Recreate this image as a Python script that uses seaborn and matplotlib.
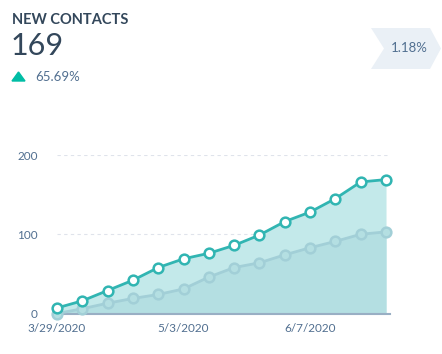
import pandas as pd
import seaborn as sns
import matplotlib.pyplot as plt
import matplotlib.dates as mdates
from matplotlib.patches import Polygon

# %% data
dates = pd.date_range('2020-03-29', periods=14, freq='7D')
current = [7, 16, 29, 42, 58, 69, 76, 86, 99, 116, 128, 145, 166, 169]
previous = [0, 6, 13, 19, 24, 31, 46, 58, 64, 74, 83, 91, 100, 103]
tick_dates = ['2020-03-29', '2020-05-03', '2020-06-07']

title = 'NEW CONTACTS'
total = '169'
change = '65.69%'
rate = '1.18%'

# %% style
sns.set_style('white')
plt.rcParams['font.family'] = ['Lato', 'DejaVu Sans']

dark = '#33475b'
slate = '#516f90'
teal = '#31b5b2'
pale = '#a2cfd7'
fill_cur = '#c3e9ea'
fill_prev = '#b4dfe2'

df = pd.DataFrame({'date': list(dates) * 2,
                   'value': current + previous,
                   'series': ['current'] * 14 + ['previous'] * 14})

W, H = 442, 354
fig = plt.figure(figsize=(W / 100, H / 100), dpi=100)
ax = fig.add_axes([57 / W, 1 - 313.5 / H, 333 / W, 158.5 / H])

# areas
ax.fill_between(dates, current, color=fill_cur, lw=0, zorder=1)
ax.fill_between(dates, previous, color=fill_prev, lw=0, zorder=1)

sns.lineplot(data=df, x='date', y='value', hue='series',
             palette={'current': teal, 'previous': pale},
             hue_order=['previous', 'current'],
             marker='o', markersize=7, markerfacecolor='white',
             markeredgewidth=1.8, linewidth=2, legend=False, ax=ax,
             clip_on=False, zorder=3)
for ln, col, face in zip(ax.lines, [pale, teal], [fill_prev, 'white']):
    ln.set_markeredgecolor(col)
    ln.set_markerfacecolor(face)

ax.set_ylim(0, 200)
ax.set_xlim(dates[0], dates[-1] + pd.Timedelta(days=1.1))
ax.set_yticks([0, 100, 200])
ax.set_xticks(pd.to_datetime(tick_dates))
ax.xaxis.set_major_formatter(mdates.DateFormatter('%-m/%-d/%Y'))
ax.grid(axis='y', color='#dfe3eb', linestyle=(0, (3, 3)), linewidth=0.8)
ax.set_axisbelow(True)
ax.set_xlabel('')
ax.set_ylabel('')
for s in ['top', 'right', 'left']:
    ax.spines[s].set_visible(False)
ax.spines['bottom'].set_color('#99afc4')
ax.spines['bottom'].set_linewidth(1.5)
ax.spines['bottom'].set_zorder(2)
ax.tick_params(axis='x', direction='in', length=5, color='#99afc4', width=0.8,
               labelsize=8.5, labelcolor=slate, pad=7)
ax.tick_params(axis='y', length=0, labelsize=8.5, labelcolor=slate, pad=14)
ax.patch.set_alpha(0)

# %% header texts
def px(x, y):
    return x / W, 1 - y / H

fig.text(*px(12, 24), title, fontsize=10.5, fontweight='bold', color=dark)
fig.text(*px(11, 55), total, fontsize=22, color=dark)
fig.patches.append(Polygon([px(12, 81), px(25, 81), px(18.5, 72)],
                           closed=True, color='#00bda5', transform=fig.transFigure))
fig.text(*px(35, 81), change, fontsize=9.5, color=slate)

fig.patches.append(Polygon([px(371, 28), px(430, 28), px(441, 48.5), px(430, 69),
                            px(371, 69), px(384, 48.5)],
                           closed=True, color='#eaf0f6', lw=0, transform=fig.transFigure))
fig.text(*px(409, 48.5), rate, fontsize=9.5, color=slate, ha='center', va='center')

fig.savefig('out.png', dpi=100)
